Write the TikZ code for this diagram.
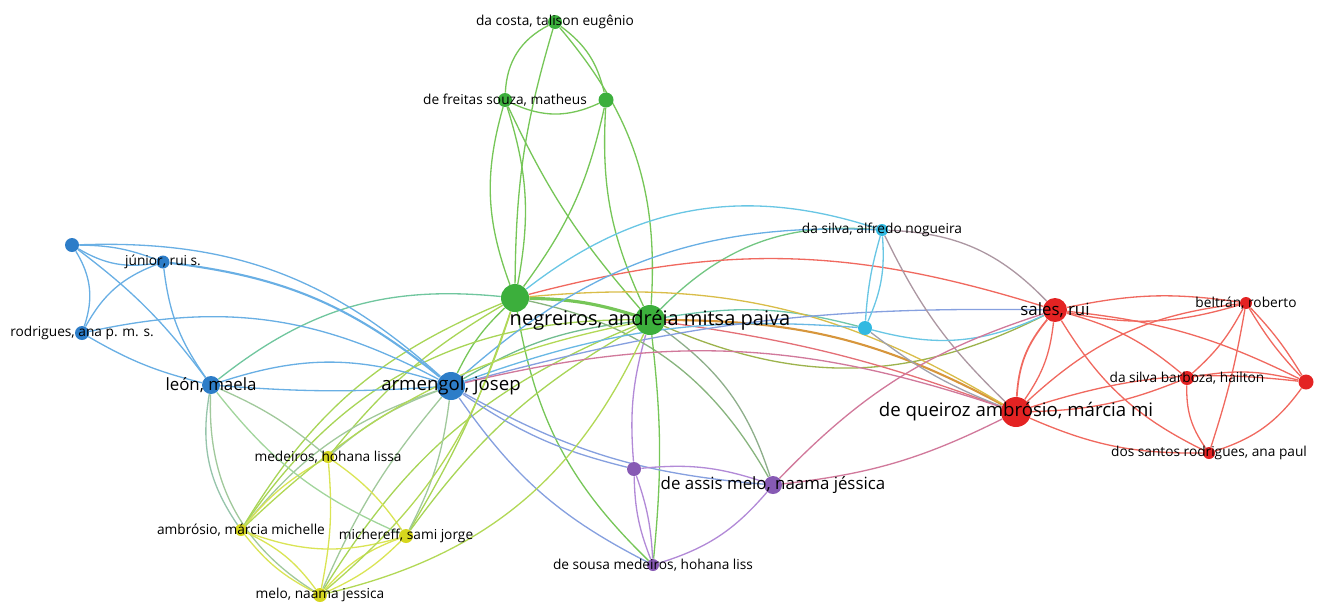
\documentclass[tikz,border=0pt]{standalone}
\usepackage{fontspec}
\setmainfont{Open Sans}
\pgfdeclarelayer{background}
\pgfsetlayers{background,main}
\definecolor{cBlue}{RGB}{45,125,200}
\definecolor{eBlue}{RGB}{105,175,228}
\definecolor{cGreen}{RGB}{60,175,60}
\definecolor{eGreen}{RGB}{118,198,88}
\definecolor{cRed}{RGB}{228,35,35}
\definecolor{eRed}{RGB}{240,105,95}
\definecolor{cYel}{RGB}{215,215,30}
\definecolor{eYel}{RGB}{218,228,85}
\definecolor{cPur}{RGB}{135,90,180}
\definecolor{ePur}{RGB}{178,138,215}
\definecolor{cCyan}{RGB}{50,185,225}
\definecolor{eCyan}{RGB}{105,198,228}
\definecolor{eOrange}{RGB}{215,150,60}
\tikzset{
  au/.style={circle,inner sep=0pt,fill=#1},
  lhuge/.style={font=\fontsize{11.4}{13}\selectfont},
  lbig/.style={font=\fontsize{10.6}{12}\selectfont},
  lmid/.style={font=\fontsize{9.6}{11}\selectfont},
  lsmall/.style={font=\fontsize{7.8}{9}\selectfont},
  lk/.style={line width=0.75pt,draw=#1}
}
\begin{document}
\begin{tikzpicture}[x=0.02cm,y=-0.02cm]
\useasboundingbox (0,0) rectangle (1338,610);
% green
\node[au=cGreen,minimum size=2.8mm,label={[lsmall]center:da costa, talison eugênio}] (costa) at (555,22) {};
\node[au=cGreen,minimum size=2.8mm,label={[lsmall]center:de freitas souza, matheus}] (freitas) at (505,100) {};
\node[au=cGreen,minimum size=3mm] (gtr) at (606,100) {};
\node[au=cGreen,minimum size=5.6mm] (gbig) at (515,298) {};
\node[au=cGreen,minimum size=6mm,label={[lhuge]center:negreiros, andréia mitsa paiva}] (negreiros) at (650,320) {};
% blue
\node[au=cBlue,minimum size=2.8mm] (bl) at (72,245) {};
\node[au=cBlue,minimum size=2.6mm,label={[lsmall]center:júnior, rui s.}] (junior) at (163,262) {};
\node[au=cBlue,minimum size=2.8mm,label={[lsmall]center:rodrigues, ana p. m. s.}] (rodrigues) at (82,333) {};
\node[au=cBlue,minimum size=3.6mm,label={[lmid]center:león, maela}] (leon) at (211,385) {};
\node[au=cBlue,minimum size=5.6mm,label={[lbig]center:armengol, josep}] (armengol) at (451,386) {};
% cyan
\node[au=cCyan,minimum size=2.4mm,label={[lsmall]center:da silva, alfredo nogueira}] (alfredo) at (882,230) {};
\node[au=cCyan,minimum size=2.8mm] (cy) at (865,328) {};
% red
\node[au=cRed,minimum size=4.8mm,label={[lmid]center:sales, rui}] (sales) at (1055,310) {};
\node[au=cRed,minimum size=2.4mm,label={[lsmall]center:beltrán, roberto}] (beltran) at (1246,303) {};
\node[au=cRed,minimum size=2.8mm,label={[lsmall]center:da silva barboza, hailton}] (barboza) at (1187,378) {};
\node[au=cRed,minimum size=3mm] (rr) at (1306,382) {};
\node[au=cRed,minimum size=6mm,label={[lbig]center:de queiroz ambrósio, márcia mi}] (queiroz) at (1016,412) {};
\node[au=cRed,minimum size=2.4mm,label={[lsmall]center:dos santos rodrigues, ana paul}] (dossantos) at (1209,453) {};
% purple
\node[au=cPur,minimum size=2.8mm] (pp) at (634,469) {};
\node[au=cPur,minimum size=3.6mm,label={[lmid]center:de assis melo, naama jéssica}] (assis) at (773,485) {};
\node[au=cPur,minimum size=2.4mm,label={[lsmall]center:de sousa medeiros, hohana liss}] (sousa) at (653,565) {};
% yellow
\node[au=cYel,minimum size=2.4mm,label={[lsmall]center:medeiros, hohana lissa}] (medeiros) at (328,457) {};
\node[au=cYel,minimum size=2.4mm,label={[lsmall]center:ambrósio, márcia michelle}] (ambrosio) at (241,530) {};
\node[au=cYel,minimum size=2.8mm,label={[lsmall]center:michereff, sami jorge}] (michereff) at (406,536) {};
\node[au=cYel,minimum size=2.8mm,label={[lsmall]center:melo, naama jessica}] (melo) at (320,595) {};
\begin{pgfonlayer}{background}
\draw[lk=eGreen] (costa) to[bend right=30] (freitas);
\draw[lk=eGreen] (costa) to[bend right=8] (gbig);
\draw[lk=eGreen] (costa) to[bend left=20] (gtr);
\draw[lk=eGreen] (costa) to[bend left=22] (negreiros);
\draw[lk=eGreen] (freitas) to[bend right=25] (gtr);
\draw[lk=eGreen] (freitas) to[bend right=18] (gbig);
\draw[lk=eGreen] (freitas) to[bend left=14] (gbig);
\draw[lk=eGreen] (freitas) to[bend right=8] (negreiros);
\draw[lk=eGreen] (gtr) to[bend left=12] (gbig);
\draw[lk=eGreen] (gtr) to[bend right=14] (negreiros);
\draw[lk=eGreen,line width=1.8pt] (gbig) to[bend left=8] (negreiros);
\draw[lk=eGreen] (gbig) to[bend right=10] (armengol);
\draw[lk=eGreen!60!eBlue] (negreiros) to[bend right=12] (armengol);
\draw[lk=eGreen!50!eCyan] (gbig) to[bend right=22] (leon);
\draw[lk=eGreen!70!eCyan] (negreiros) to[bend left=25] (alfredo);
\draw[lk=eCyan] (gbig) to[bend left=28] (alfredo);
\draw[lk=eCyan!60!eGreen] (negreiros) to[bend left=12] (cy);
\draw[lk=eOrange,line width=1.2pt] (negreiros) to[bend left=14] (queiroz);
\draw[lk=eGreen!60!eOrange] (negreiros) to[bend right=25] (sales);
\draw[lk=eYel!50!eOrange] (gbig) to[bend left=18] (queiroz);
\draw[lk=eRed] (gbig) to[bend left=16] (sales);
\draw[lk=eRed!80!ePur] (negreiros) to[bend left=6] (queiroz);
\draw[lk=eGreen!60!ePur] (negreiros) to[bend left=18] (assis);
\draw[lk=ePur] (negreiros) to[bend right=10] (pp);
\draw[lk=eGreen] (gbig) to[bend right=18] (sousa);
\draw[lk=eGreen!70!ePur] (gbig) to[bend left=24] (assis);
\draw[lk=eGreen] (negreiros) to[bend left=6] (sousa);
\draw[lk=eGreen!50!eYel] (gbig) to[bend right=18] (ambrosio);
\draw[lk=eGreen!50!eYel] (gbig) to[bend right=10] (medeiros);
\draw[lk=eGreen!50!eYel] (gbig) to[bend left=6] (michereff);
\draw[lk=eGreen!50!eYel] (negreiros) to[bend right=18] (melo);
\draw[lk=eGreen!50!eYel] (negreiros) to[bend right=12] (michereff);
\draw[lk=eGreen!50!eYel] (negreiros) to[bend right=28] (ambrosio);
% blue
\draw[lk=eBlue] (bl) to[bend right=20] (junior);
\draw[lk=eBlue] (bl) to[bend left=10] (junior);
\draw[lk=eBlue] (bl) to[bend left=25] (rodrigues);
\draw[lk=eBlue] (bl) to[bend left=8] (leon);
\draw[lk=eBlue] (bl) to[bend left=22] (armengol);
\draw[lk=eBlue] (junior) to[bend right=20] (rodrigues);
\draw[lk=eBlue] (junior) to[bend right=14] (leon);
\draw[lk=eBlue,line width=1.2pt] (junior) to[bend left=16] (armengol);
\draw[lk=eBlue] (rodrigues) to[bend right=8] (leon);
\draw[lk=eBlue] (rodrigues) to[bend left=20] (armengol);
\draw[lk=eBlue] (leon) to[bend left=18] (armengol);
\draw[lk=eBlue] (leon) to[bend right=4] (armengol);
\draw[lk=eBlue!60!eYel] (leon) to[bend right=22] (ambrosio);
\draw[lk=eBlue!50!eYel] (leon) to[bend left=8] (medeiros);
\draw[lk=eBlue!50!eYel] (leon) to[bend right=30] (melo);
\draw[lk=eBlue] (armengol) to[bend left=22] (alfredo);
\draw[lk=eBlue!60!eCyan] (armengol) to[bend left=12] (cy);
\draw[lk=eBlue!60!ePur] (armengol) to[bend left=8] (sales);
\draw[lk=eBlue!60!ePur] (armengol) to[bend right=10] (pp);
\draw[lk=eBlue!60!ePur] (armengol) to[bend right=12] (assis);
\draw[lk=eBlue!60!ePur] (armengol) to[bend right=14] (sousa);
\draw[lk=eBlue!50!eYel] (armengol) to[bend right=10] (medeiros);
\draw[lk=eBlue!50!eYel] (armengol) to[bend left=10] (michereff);
\draw[lk=eBlue!50!eYel] (armengol) to[bend right=8] (melo);
\draw[lk=eBlue!50!eYel] (armengol) to[bend right=16] (ambrosio);
% cyan
\draw[lk=eCyan] (alfredo) to[bend left=14] (cy);
\draw[lk=eCyan] (alfredo) to[bend right=6] (cy);
\draw[lk=eCyan!50!eRed] (alfredo) to[bend left=22] (sales);
\draw[lk=eCyan!50!eRed] (alfredo) to[bend right=10] (queiroz);
\draw[lk=eCyan!60!eRed] (cy) to[bend right=8] (queiroz);
\draw[lk=eCyan] (cy) to[bend right=20] (sales);
% red
\draw[lk=eRed] (sales) to[bend left=10] (beltran);
\draw[lk=eRed] (sales) to[bend right=14] (beltran);
\draw[lk=eRed] (sales) to[bend left=12] (barboza);
\draw[lk=eRed] (sales) to[bend left=10] (rr);
\draw[lk=eRed,line width=1pt] (sales) to[bend right=18] (queiroz);
\draw[lk=eRed] (sales) to[bend left=14] (queiroz);
\draw[lk=eRed] (sales) to[bend right=16] (dossantos);
\draw[lk=eRed] (queiroz) to[bend left=18] (beltran);
\draw[lk=eRed] (queiroz) to[bend right=10] (barboza);
\draw[lk=eRed] (queiroz) to[bend left=12] (rr);
\draw[lk=eRed] (queiroz) to[bend right=12] (dossantos);
\draw[lk=eRed] (beltran) to[bend left=10] (barboza);
\draw[lk=eRed] (beltran) to[bend left=6] (rr);
\draw[lk=eRed] (beltran) to[bend right=6] (rr);
\draw[lk=eRed] (beltran) to[bend left=4] (dossantos);
\draw[lk=eRed] (barboza) to[bend left=12] (rr);
\draw[lk=eRed] (barboza) to[bend right=18] (dossantos);
\draw[lk=eRed] (rr) to[bend left=18] (dossantos);
% purple
\draw[lk=ePur] (pp) to[bend left=12] (assis);
\draw[lk=ePur] (pp) to[bend left=8] (sousa);
\draw[lk=ePur] (assis) to[bend left=16] (sousa);
\draw[lk=ePur] (pp) to[bend right=10] (sousa);
\draw[lk=ePur!50!eRed] (assis) to[bend left=14] (sales);
\draw[lk=ePur!50!eRed] (assis) to[bend right=10] (queiroz);
\draw[lk=ePur!50!eRed] (armengol) to[bend left=16] (queiroz);
% yellow
\draw[lk=eYel] (medeiros) to[bend right=10] (ambrosio);
\draw[lk=eYel] (medeiros) to[bend left=10] (michereff);
\draw[lk=eYel] (medeiros) to[bend left=8] (melo);
\draw[lk=eYel] (ambrosio) to[bend right=18] (michereff);
\draw[lk=eYel] (ambrosio) to[bend right=12] (melo);
\draw[lk=eYel] (ambrosio) to[bend left=14] (melo);
\draw[lk=eYel] (michereff) to[bend left=10] (melo);
\draw[lk=eYel] (michereff) to[bend right=14] (melo);
\draw[lk=eYel!60!eGreen] (ambrosio) to[bend left=16] (negreiros);
\draw[lk=eYel!60!eGreen] (melo) to[bend right=16] (gbig);
\draw[lk=eYel!60!eGreen] (melo) to[bend right=26] (negreiros);
\draw[lk=eYel!50!eCyan] (michereff) to[bend left=14] (leon);
\end{pgfonlayer}
\end{tikzpicture}
\end{document}
